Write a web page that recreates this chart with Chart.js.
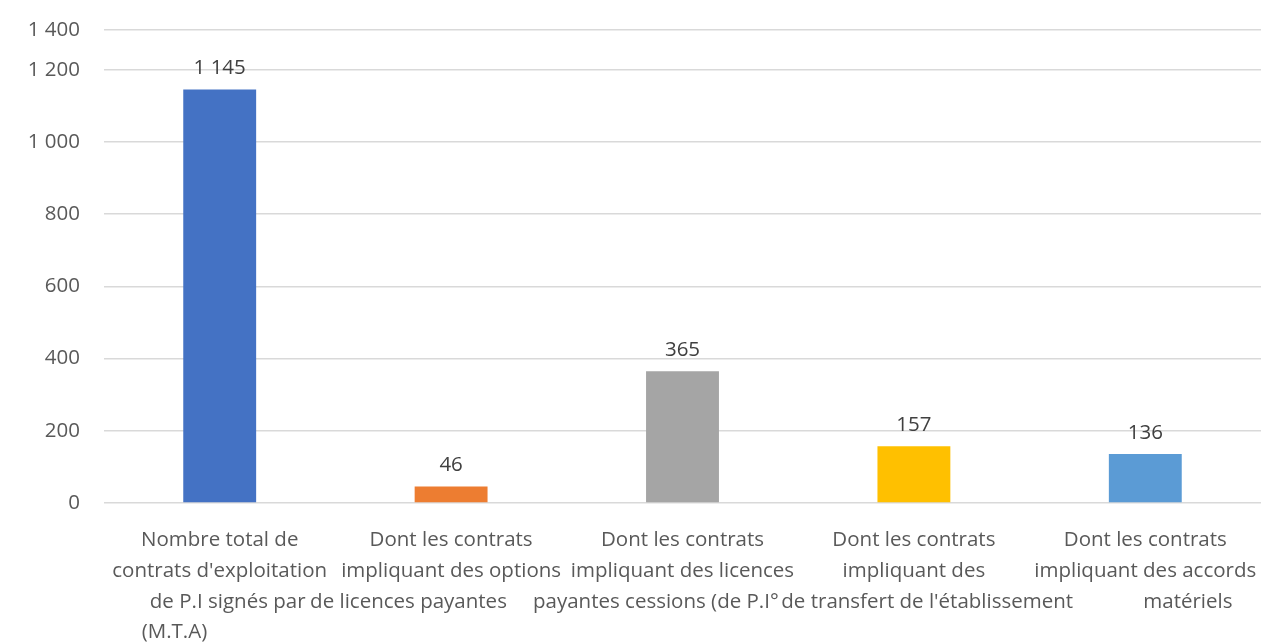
<!DOCTYPE html>
<html lang="fr">
<head>
<meta charset="UTF-8"/>
<title>Contrats d'exploitation de P.I</title>
<script src="https://cdn.jsdelivr.net/npm/chart.js@4.4.7/dist/chart.umd.min.js"></script>
<style>
*{box-sizing:border-box;margin:0;padding:0}
html,body{width:1261px;height:642px;background:#fff;overflow:hidden}
.wrap{position:relative;width:1261px;height:642px}
</style>
</head>
<body>
<div class="wrap"><canvas id="chart"></canvas></div>
<script>
// categories, wrapped as in the source; the padding spaces reproduce its uneven alignment
const categories = [
  ['Nombre total de', "contrats d'exploitation", '   de P.I signés par', '(M.T.A)                 '],
  ['Dont les contrats', 'impliquant des options', 'de licences payantes                '],
  ['Dont les contrats', 'impliquant des licences', 'payantes cessions (de P.I°          '],
  ['Dont les contrats', 'impliquant des', "     de transfert de l'établissement"],
  ['Dont les contrats', 'impliquant des accords', '                matériels'],
];
const values     = [1145, 46, 365, 157, 136];
const barColors  = ['#4472C4', '#ED7D31', '#A5A5A5', '#FFC000', '#5B9BD5'];

// y ticks; the top gridline sits closer than a full step in the source picture
const yTickValues = [0, 200, 400, 600, 800, 1000, 1200, 1310];
const yTickLabels = ['0', '200', '400', '600', '800', '1 000', '1 200', '1 400'];
const yMax = 1310;

const fmt = (v) => String(v).replace(/\B(?=(\d{3})+(?!\d))/g, ' ');
const FONT = "'Open Sans', 'DejaVu Sans', sans-serif";

const valueLabels = {
  id: 'valueLabels',
  afterDatasetsDraw(chart) {
    const { ctx } = chart;
    const meta = chart.getDatasetMeta(0);
    ctx.save();
    ctx.font = `20.5px ${FONT}`;
    ctx.fillStyle = '#404040';
    ctx.textAlign = 'center';
    ctx.textBaseline = 'middle';
    meta.data.forEach((bar, i) => {
      ctx.fillText(fmt(values[i]), bar.x, bar.y - 21);
    });
    ctx.restore();
  }
};

new Chart(document.getElementById('chart'), {
  type: 'bar',
  data: {
    labels: categories,
    datasets: [{
      data: values,
      backgroundColor: barColors,
      borderWidth: 0,
      categoryPercentage: 1,
      barPercentage: 0.315,
    }]
  },
  options: {
    responsive: true,
    maintainAspectRatio: false,
    animation: false,
    layout: { padding: { left: 8, right: 0, top: 30, bottom: 0 } },
    plugins: { legend: { display: false }, tooltip: { enabled: false } },
    scales: {
      x: {
        grid: { display: false },
        border: { display: false },
        ticks: {
          autoSkip: false, maxRotation: 0, minRotation: 0,
          color: '#595959', padding: 14,
          font: { family: FONT, size: 20.5, lineHeight: 1.5 },
        },
        afterFit(scale) {
          scale.height = 139;
          scale.paddingLeft = 0;
          scale.paddingRight = 0;
        },
      },
      y: {
        min: 0, max: yMax,
        afterBuildTicks(scale) { scale.ticks = yTickValues.map((v) => ({ value: v })); },
        grid: { color: '#d9d9d9', lineWidth: 1.5, drawTicks: false },
        border: { display: false },
        ticks: {
          color: '#595959', padding: 24,
          font: { family: FONT, size: 20.5 },
          callback: (v) => yTickLabels[yTickValues.indexOf(v)],
        },
        afterFit(scale) {
          scale.width = 96;
          scale.paddingTop = 0;
          scale.paddingBottom = 0;
        },
      }
    }
  },
  plugins: [valueLabels]
});
</script>
</body>
</html>
